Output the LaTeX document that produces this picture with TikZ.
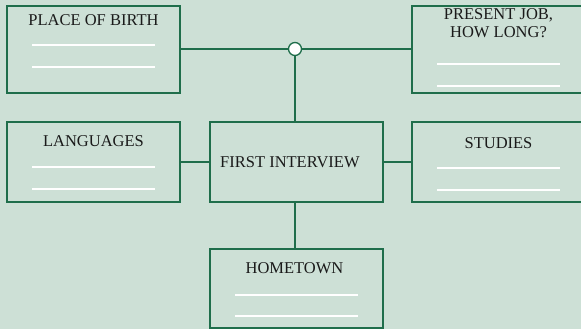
\documentclass[tikz,border=0pt]{standalone}
\usepackage{fontspec}
\setmainfont{Liberation Serif}
\usetikzlibrary{positioning}
\definecolor{sheet}{HTML}{CDE0D6}
\definecolor{rim}{HTML}{1F6E4B}
\definecolor{ink}{HTML}{1A1A1A}

\begin{document}
\begin{tikzpicture}[
    x=1pt, y=-1pt,
    card/.style={rectangle, draw=rim, line width=1.3pt, minimum width=173pt,
                 inner sep=0pt, outer sep=0pt},
    heading/.style={font=\fontsize{16.5}{18}\selectfont, text=ink, inner sep=0pt,
                align=center, anchor=base},
    blank/.style={draw=white, line width=1.2pt},
    link/.style={draw=rim, line width=1.3pt},
    hubdot/.style={circle, draw=rim, fill=white, line width=1.3pt,
                   minimum size=13pt, inner sep=0pt},
]
\path[use as bounding box, fill=sheet] (0,0) rectangle (581,329);
\clip (0,0) rectangle (581,329);

%% -- top row ------------------------------------------------------------
\node[card, minimum height=87pt]                       (pob)  at (93.5,49.5) {};
\node[card, minimum height=87pt, right=232pt of pob]   (job)  {};
\node[hubdot]                                          (hub)  at (295,49) {};

%% -- middle row ---------------------------------------------------------
\node[card, minimum height=80pt, below=29pt of pob.south, anchor=north] (lang) {};
\node[card, minimum height=80pt, right=30pt of lang]   (fi)   {};
\node[card, minimum height=80pt, right=29pt of fi]     (stud) {};

%% -- bottom -------------------------------------------------------------
\node[card, minimum height=79pt, below=47pt of fi]     (home) {};

% titles
\node[heading] (pobt)  at ([yshift=-20pt]pob.north)  {PLACE OF BIRTH};
\node[heading] (jobt)  at ([yshift=-32pt]job.north)  {PRESENT JOB,\\HOW LONG?};
\node[heading] (langt) at ([yshift=-24pt]lang.north) {LANGUAGES};
\node[heading] (studt) at ([yshift=-26pt]stud.north) {STUDIES};
\node[heading] (homet) at ([xshift=-2pt,yshift=-24pt]home.north) {HOMETOWN};
\node[heading, anchor=base west] (fit) at ([xshift=10pt,yshift=-5pt]fi.west) {FIRST INTERVIEW};

% blanks to fill in
\draw[blank] ([xshift=-61.5pt,yshift=-39pt]pob.north)  -- ++(123,0);
\draw[blank] ([xshift=-61.5pt,yshift=-61pt]pob.north)  -- ++(123,0);
\draw[blank] ([xshift=-61.5pt,yshift=-58pt]job.north)  -- ++(123,0);
\draw[blank] ([xshift=-61.5pt,yshift=-80pt]job.north)  -- ++(123,0);
\draw[blank] ([xshift=-61.5pt,yshift=-45pt]lang.north) -- ++(123,0);
\draw[blank] ([xshift=-61.5pt,yshift=-67pt]lang.north) -- ++(123,0);
\draw[blank] ([xshift=-61.5pt,yshift=-46pt]stud.north) -- ++(123,0);
\draw[blank] ([xshift=-61.5pt,yshift=-68pt]stud.north) -- ++(123,0);
\draw[blank] ([xshift=-61.5pt,yshift=-46pt]home.north) -- ++(123,0);
\draw[blank] ([xshift=-61.5pt,yshift=-67pt]home.north) -- ++(123,0);

% connectors
\draw[link] (pob.east |- hub) -- (hub.west);
\draw[link] (hub.east) -- (hub.east -| job.west);
\draw[link] (hub.south) -- (hub.south |- fi.north);
\draw[link] (lang.east) -- (fi.west);
\draw[link] (fi.east) -- (stud.west);
\draw[link] (hub.south |- fi.south) -- (hub.south |- home.north);

\end{tikzpicture}
\end{document}
